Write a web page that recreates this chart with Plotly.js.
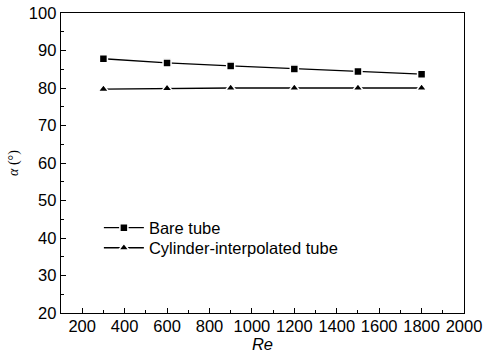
<!DOCTYPE html>
<html><head><meta charset="utf-8">
<script src="https://cdn.plot.ly/plotly-3.0.1.min.js"></script>
<style>body{margin:0;background:#fff}#chart{width:486px;height:356px}</style>
</head><body><div id="chart"></div>
<script>
const re = [300, 600, 900, 1200, 1500, 1800];
const bareTube = [87.8, 86.7, 85.9, 85.1, 84.4, 83.7];
const cylinderTube = [79.7, 79.9, 80.0, 80.0, 80.0, 80.0];
const seriesNames = ['Bare tube', 'Cylinder-interpolated tube'];

const traces = [
  {x: re, y: bareTube, name: seriesNames[0], mode: 'lines+markers', type: 'scatter', legend: 'legend',
   line: {color: '#000', width: 1.3},
   marker: {symbol: 'square', size: 8, color: '#000', line: {color: '#fff', width: 1.5}}},
  {x: re, y: cylinderTube, name: seriesNames[1], mode: 'lines+markers', type: 'scatter', legend: 'legend2',
   line: {color: '#000', width: 1.3},
   marker: {symbol: 'triangle-up', size: 9, color: '#000', line: {color: '#fff', width: 1.5}}}
];

const FONT = 'Liberation Sans, Arial, sans-serif';
const axisCommon = {
  showline: true, linecolor: '#000', linewidth: 1.3, mirror: true,
  ticks: 'inside', ticklen: 5, tickwidth: 1, tickcolor: '#000',
  showgrid: false, zeroline: false,
  tickfont: {family: FONT, size: 16.5, color: '#000'}
};
const legendCommon = {xanchor: 'left', yanchor: 'top', bgcolor: 'rgba(0,0,0,0)',
  itemwidth: 40, font: {family: FONT, size: 16.5, color: '#000'}};

const layout = {
  width: 486, height: 356,
  margin: {l: 61, r: 22, t: 13, b: 43},
  paper_bgcolor: '#fff', plot_bgcolor: '#fff',
  showlegend: true,
  legend: Object.assign({}, legendCommon, {x: 0.094, y: 0.342}),
  legend2: Object.assign({}, legendCommon, {x: 0.094, y: 0.275}),
  xaxis: Object.assign({}, axisCommon, {
    range: [100, 2000], tickvals: [200,400,600,800,1000,1200,1400,1600,1800,2000],
    ticklabelstandoff: -2,
    minor: {ticks: 'inside', ticklen: 3, tickcolor: '#000', dtick: 100, tick0: 100},
    title: {text: '<i>Re</i>', standoff: 0, font: {family: FONT, size: 16.5, color: '#000'}}
  }),
  yaxis: Object.assign({}, axisCommon, {
    range: [20, 100], dtick: 10,
    minor: {ticks: 'inside', ticklen: 3, tickcolor: '#000', dtick: 5},
    title: {text: '<i>α</i> (°)', standoff: 7, font: {family: 'Liberation Serif, Times New Roman, serif', size: 14, color: '#000'}}
  })
};

Plotly.newPlot('chart', traces, layout, {displayModeBar: false, staticPlot: true});
</script></body></html>
